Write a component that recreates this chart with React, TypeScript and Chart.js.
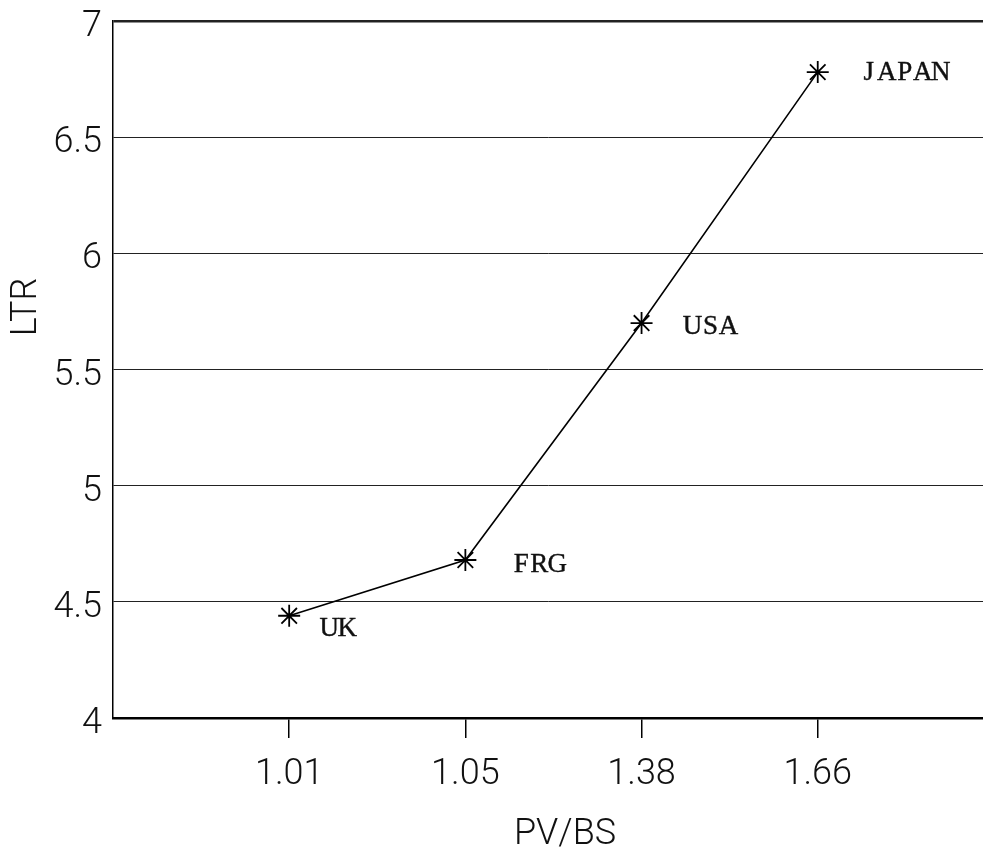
import React, { useEffect, useRef } from "react";
import { Chart, registerables } from "chart.js";

Chart.register(...registerables);

// Countries plotted along the PV/BS axis (evenly spaced categories)
const countries = ["UK", "FRG", "USA", "JAPAN"];
const pvbsLabels = ["1.01", "1.05", "1.38", "1.66"];
const ltrValues = [4.44, 4.68, 5.7, 6.78];
const yTickValues = [4, 4.5, 5, 5.5, 6, 6.5, 7];

// Where each country name sits relative to its marker (px)
const nameOffsets: [number, number][] = [
  [31, 12],
  [47, 4],
  [42, 3],
  [42, 0],
];

const W = 983;
const H = 856;
const SANS = "'Roboto', 'Liberation Sans', sans-serif";
const SERIF = "'Liberation Serif', 'DejaVu Serif', serif";
const CELL = 18; // typewriter-style fixed advance for the country names

const countryNamesPlugin = {
  id: "countryNames",
  afterDatasetsDraw(chart: any) {
    const meta = chart.getDatasetMeta(0);
    const ctx = chart.ctx;
    ctx.save();
    ctx.fillStyle = "#111";
    ctx.strokeStyle = "#111";
    ctx.lineWidth = 0.4;
    ctx.font = `27px ${SERIF}`;
    ctx.textAlign = "center";
    ctx.textBaseline = "middle";
    meta.data.forEach((pt: any, i: number) => {
      const [dx, dy] = nameOffsets[i];
      const name = countries[i];
      for (let k = 0; k < name.length; k++) {
        const cx = pt.x + dx + CELL * k + CELL / 2;
        const cy = pt.y + dy + 1;
        ctx.fillText(name[k], cx, cy);
        ctx.strokeText(name[k], cx, cy);
      }
    });
    ctx.restore();
  },
};

const axisTitlesPlugin = {
  id: "axisTitles",
  afterDraw(chart: any) {
    const ctx = chart.ctx;
    const area = chart.chartArea;
    ctx.save();
    ctx.fillStyle = "#111";
    ctx.font = `300 36px ${SANS}`;
    ctx.textAlign = "center";
    ctx.textBaseline = "middle";
    ctx.fillText("PV/BS", (area.left + area.right) / 2 + 17, 835);
    ctx.translate(27, 307);
    ctx.rotate(-Math.PI / 2);
    ctx.fillText("LTR", 0, 0);
    ctx.restore();
  },
};

export default function App() {
  const ref = useRef<HTMLCanvasElement | null>(null);

  useEffect(() => {
    if (!ref.current) return;
    const chart = new Chart(ref.current, {
      type: "line",
      data: {
        datasets: [
          {
            data: ltrValues.map((v, i) => ({ x: i + 1, y: v })),
            borderColor: "#000",
            borderWidth: 1.6,
            tension: 0,
            pointStyle: "star",
            pointRadius: 11,
            pointBorderWidth: 1.8,
            pointBorderColor: "#000",
            pointBackgroundColor: "#000",
            fill: false,
          },
        ],
      },
      options: {
        responsive: false,
        animation: false,
        layout: { autoPadding: false, padding: { top: 21, left: 0, right: 0, bottom: 0 } },
        plugins: {
          legend: { display: false },
          tooltip: { enabled: false },
        },
        scales: {
          x: {
            type: "linear",
            min: 0,
            max: 4.938,
            afterBuildTicks: (scale: any) => {
              scale.ticks = pvbsLabels.map((_, i) => ({ value: i + 1 }));
            },
            afterFit: (scale: any) => {
              scale.height = H - 718;
              scale.paddingLeft = 0;
              scale.paddingRight = 0;
            },
            ticks: {
              autoSkip: false,
              maxRotation: 0,
              color: "#111",
              padding: 15,
              font: { family: SANS, size: 36, weight: "300" },
              callback: (v: any) => pvbsLabels[Number(v) - 1] ?? "",
            },
            grid: {
              drawOnChartArea: false,
              drawTicks: true,
              tickLength: 20,
              color: "#000",
              lineWidth: 1.5,
            },
            border: { display: true, color: "#000", width: 2.5 },
          },
          y: {
            type: "linear",
            min: 4,
            max: 7,
            afterBuildTicks: (scale: any) => {
              scale.ticks = yTickValues.map((v) => ({ value: v }));
            },
            afterFit: (scale: any) => {
              scale.width = 113;
              scale.paddingTop = 0;
              scale.paddingBottom = 0;
            },
            ticks: {
              color: "#111",
              padding: 11,
              labelOffset: 6,
              font: { family: SANS, size: 36, weight: "300" },
              callback: (v: any) => String(v),
            },
            grid: {
              drawTicks: false,
              color: "#222",
              lineWidth: (c: any) => (c.tick && c.tick.value === 7 ? 2.5 : 1),
            },
            border: { display: true, color: "#000", width: 1.5 },
          },
        },
      },
      plugins: [countryNamesPlugin, axisTitlesPlugin],
    });
    return () => chart.destroy();
  }, []);

  return (
    <div style={{ position: "absolute", left: 0, top: 0, width: W, height: H, background: "#fff" }}>
      <canvas ref={ref} width={W} height={H} style={{ display: "block", width: W, height: H }} />
    </div>
  );
}
